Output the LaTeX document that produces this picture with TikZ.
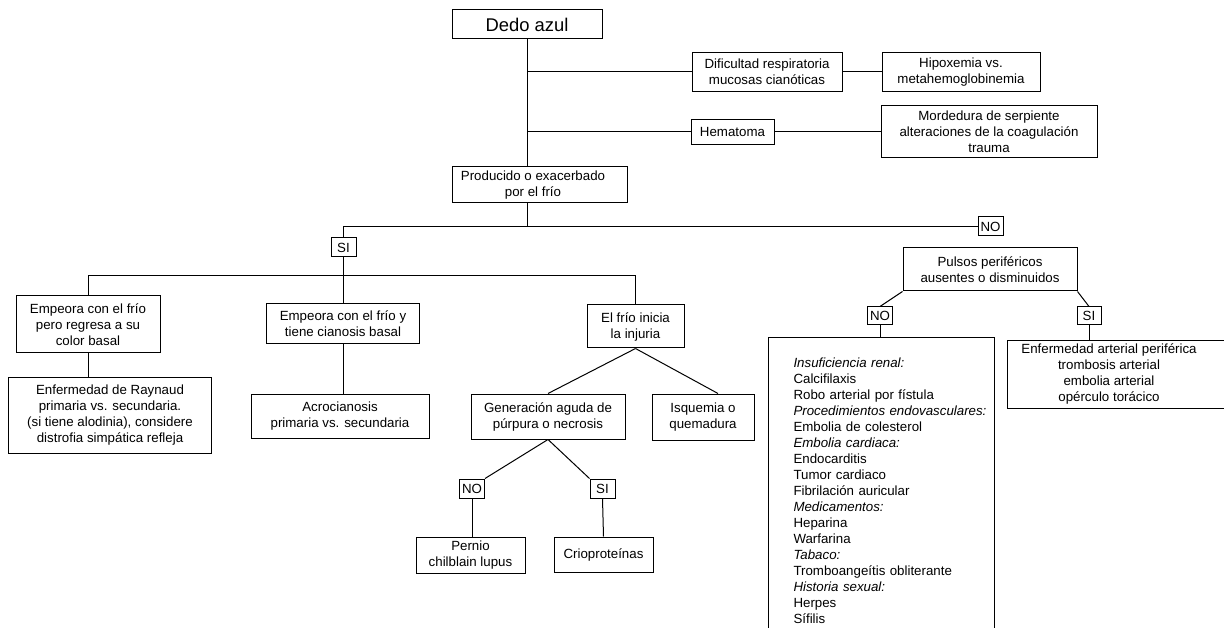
\documentclass[tikz,border=0pt]{standalone}
\usepackage{fontspec}
\setmainfont{Liberation Sans}
\tikzset{
  caja/.style={draw, line width=1pt, inner sep=0pt, align=center, font=\fontsize{13.3}{16}\selectfont},
  sino/.style={draw, line width=1pt, inner sep=0pt, minimum width=25pt, minimum height=19pt, font=\fontsize{13.3}{16}\selectfont},
}
\begin{document}
\begin{tikzpicture}[x=1pt, y=-1pt, line width=1pt]
        \useasboundingbox (0,0) rectangle (1224,628);
        \clip (0,0) rectangle (1224,628);
        \node[caja, minimum width=150pt, minimum height=29pt, font=\fontsize{18.4}{22}\selectfont] (dedo) at (527,24.5) {Dedo azul};
        \node[caja, minimum width=150pt, minimum height=39pt] (dific) at (767,72) {Dificultad respiratoria\\mucosas cianóticas};
        \node[caja, minimum width=158pt, minimum height=39pt] (hipox) at (961,72) {Hipoxemia vs.\\metahemoglobinemia};
        \node[caja, minimum width=83pt, minimum height=25pt] (hemat) at (732.5,132) {Hematoma};
        \node[caja, minimum width=216pt, minimum height=52pt] (morde) at (989,132) {Mordedura de serpiente\\alteraciones de la coagulación\\trauma};
        \node[caja, minimum width=175pt, minimum height=36pt] (prod) at (539.5,185) {\begin{tabular}{@{}c@{}}Producido o exacerbado\\por el frío\end{tabular}\hspace*{13pt}};
        \node[sino] (no1) at (990.5,226.5) {NO};
        \node[sino] (si1) at (343.5,247.5) {SI};
        \node[caja, minimum width=144pt, minimum height=57pt] (emp1) at (88,324.5) {Empeora con el frío\\pero regresa a su\\color basal};
        \node[caja, minimum width=203pt, minimum height=75pt] (rayn) at (110,415.5) {Enfermedad de Raynaud\\primaria vs. secundaria.\\(si tiene alodinia), considere\\distrofia simpática refleja};
        \node[caja, minimum width=153pt, minimum height=40pt] (emp2) at (343,324) {Empeora con el frío y\\tiene cianosis basal};
        \node[caja, minimum width=178pt, minimum height=44pt] (acro) at (340,416) {Acrocianosis\\primaria vs. secundaria};
        \node[caja, minimum width=97pt, minimum height=43pt] (frio) at (635.5,326.5) {El frío inicia\\la injuria};
        \node[caja, minimum width=154pt, minimum height=45pt] (gene) at (548,416.5) {Generación aguda de\\púrpura o necrosis};
        \node[caja, minimum width=102pt, minimum height=46pt] (isq) at (703,417) {Isquemia o\\quemadura};
        \node[sino] (no2) at (472,488.5) {NO};
        \node[sino] (si2) at (602.5,488.5) {SI};
        \node[caja, minimum width=109pt, minimum height=36pt] (pern) at (470.5,555) {Pernio\\chilblain lupus};
        \node[caja, minimum width=99pt, minimum height=35pt] (crio) at (603.5,554.5) {Crioproteínas};
        \node[caja, minimum width=174pt, minimum height=43pt] (puls) at (990,269.5) {Pulsos periféricos\\ausentes o disminuidos};
        \node[sino, minimum height=18pt] (no3) at (880,316) {NO};
        \node[sino, minimum width=24pt, minimum height=18pt] (si3) at (1089,316) {SI};
        \node[caja, anchor=north west, align=left, text width=176pt, inner xsep=25pt, inner ysep=20pt] (lista) at (768,337) {\textit{Insuficiencia renal:}\\Calcifilaxis\\Robo arterial por fístula\\\mbox{\textit{Procedimientos endovasculares:}}\\Embolia de colesterol\\\textit{Embolia cardiaca:}\\Endocarditis\\Tumor cardiaco\\Fibrilación auricular\\\textit{Medicamentos:}\\Heparina\\Warfarina\\\textit{Tabaco:}\\Tromboangeítis obliterante\\\textit{Historia sexual:}\\Herpes\\Sífilis\rule[-20pt]{0pt}{1pt}};
        \node[caja, minimum width=260pt, minimum height=67pt] (enf) at (1137,374.5) {\begin{tabular}{@{}c@{}}Enfermedad arterial periférica\\trombosis arterial\\embolia arterial\\opérculo torácico\end{tabular}\hspace*{56pt}};
        \draw (dedo.south) -- (dedo.south |- prod.north);
        \draw (dedo.south |- dific.west) -- (dific.west);
        \draw (dific.east) -- (hipox.west);
        \draw (dedo.south |- hemat.west) -- (hemat.west);
        \draw (hemat.east) -- (morde.west);
        \draw (dedo.south |- prod.south) -- (dedo.south |- no1.west);
        \draw (si1.north) |- (no1.west);
        \draw (si1.south) -- (si1.south |- emp2.north);
        \draw (emp1.north) -- ++(0,-20) -| (frio.north);
        \draw (emp1.south) -- (emp1.south |- rayn.north);
        \draw (emp2.south) -- (emp2.south |- acro.north);
        \draw (frio.south) -- (gene.north);
        \draw (frio.south) -- ([xshift=15pt]isq.north);
        \draw (gene.south) -- (no2.north east);
        \draw (gene.south) -- (si2.north west);
        \draw (no2.south) -- (no2.south |- pern.north);
        \draw (si2.south) -- (crio.north);
        \draw (puls.south west) -- (no3.north);
        \draw (puls.south east) -- (si3.north);
        \draw (no3.south) -- (no3.south |- lista.north);
        \draw (si3.south) -- (si3.south |- enf.north);
\end{tikzpicture}
\end{document}
